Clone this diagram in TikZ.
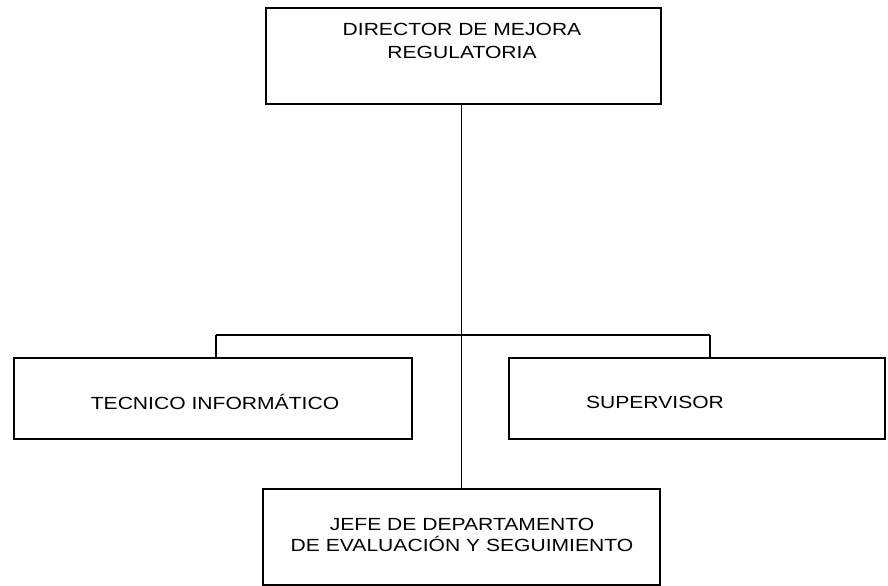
\documentclass[tikz,border=0pt]{standalone}
\usepackage{fontspec}
\setmainfont{Liberation Sans}[FakeStretch=1.2]
\usepackage{tikz}

\begin{document}
\begin{tikzpicture}[x=0.03cm,y=-0.03cm,
    caja/.style={draw,line width=1.1pt,inner sep=0pt},
    rotulo/.style={align=center,inner sep=0pt,font=\fontsize{15}{19}\selectfont}]
    \useasboundingbox (0,0) rectangle (888,586);
           % cajas
           \node[caja, minimum width=11.85cm, minimum height=2.88cm] (dir) at (463.5,56) {};
           \node[caja, minimum width=11.94cm, minimum height=2.43cm] (tec) at (213,398.5) {};
           \node[caja, minimum width=11.28cm, minimum height=2.43cm] (sup) at (697,398.5) {};
           \node[caja, minimum width=11.91cm, minimum height=2.88cm] (jefe) at (461.5,537) {};
           % textos
           \node[rotulo] (dir_t) at (462,41) {DIRECTOR DE MEJORA\\REGULATORIA};
           \node[rotulo] (tec_t) at (215,402) {TECNICO INFORMÁTICO};
           \node[rotulo] (sup_t) at (655,402) {SUPERVISOR};
           \node[rotulo, font=\fontsize{15}{17.5}\selectfont] (jefe_t) at (462,535)
                {JEFE DE DEPARTAMENTO\\DE EVALUACIÓN Y SEGUIMIENTO};
           % lineas
           \coordinate (izq) at (216,335);
           \coordinate (der) at (710,335);
           \path[draw, line width=1.1pt]
            (dir.south -| jefe.north) -- (jefe.north)
            (izq) -- (der)
            (izq) -- (izq |- tec.north)
            (der) -- (der |- sup.north);
\end{tikzpicture}
\end{document}
